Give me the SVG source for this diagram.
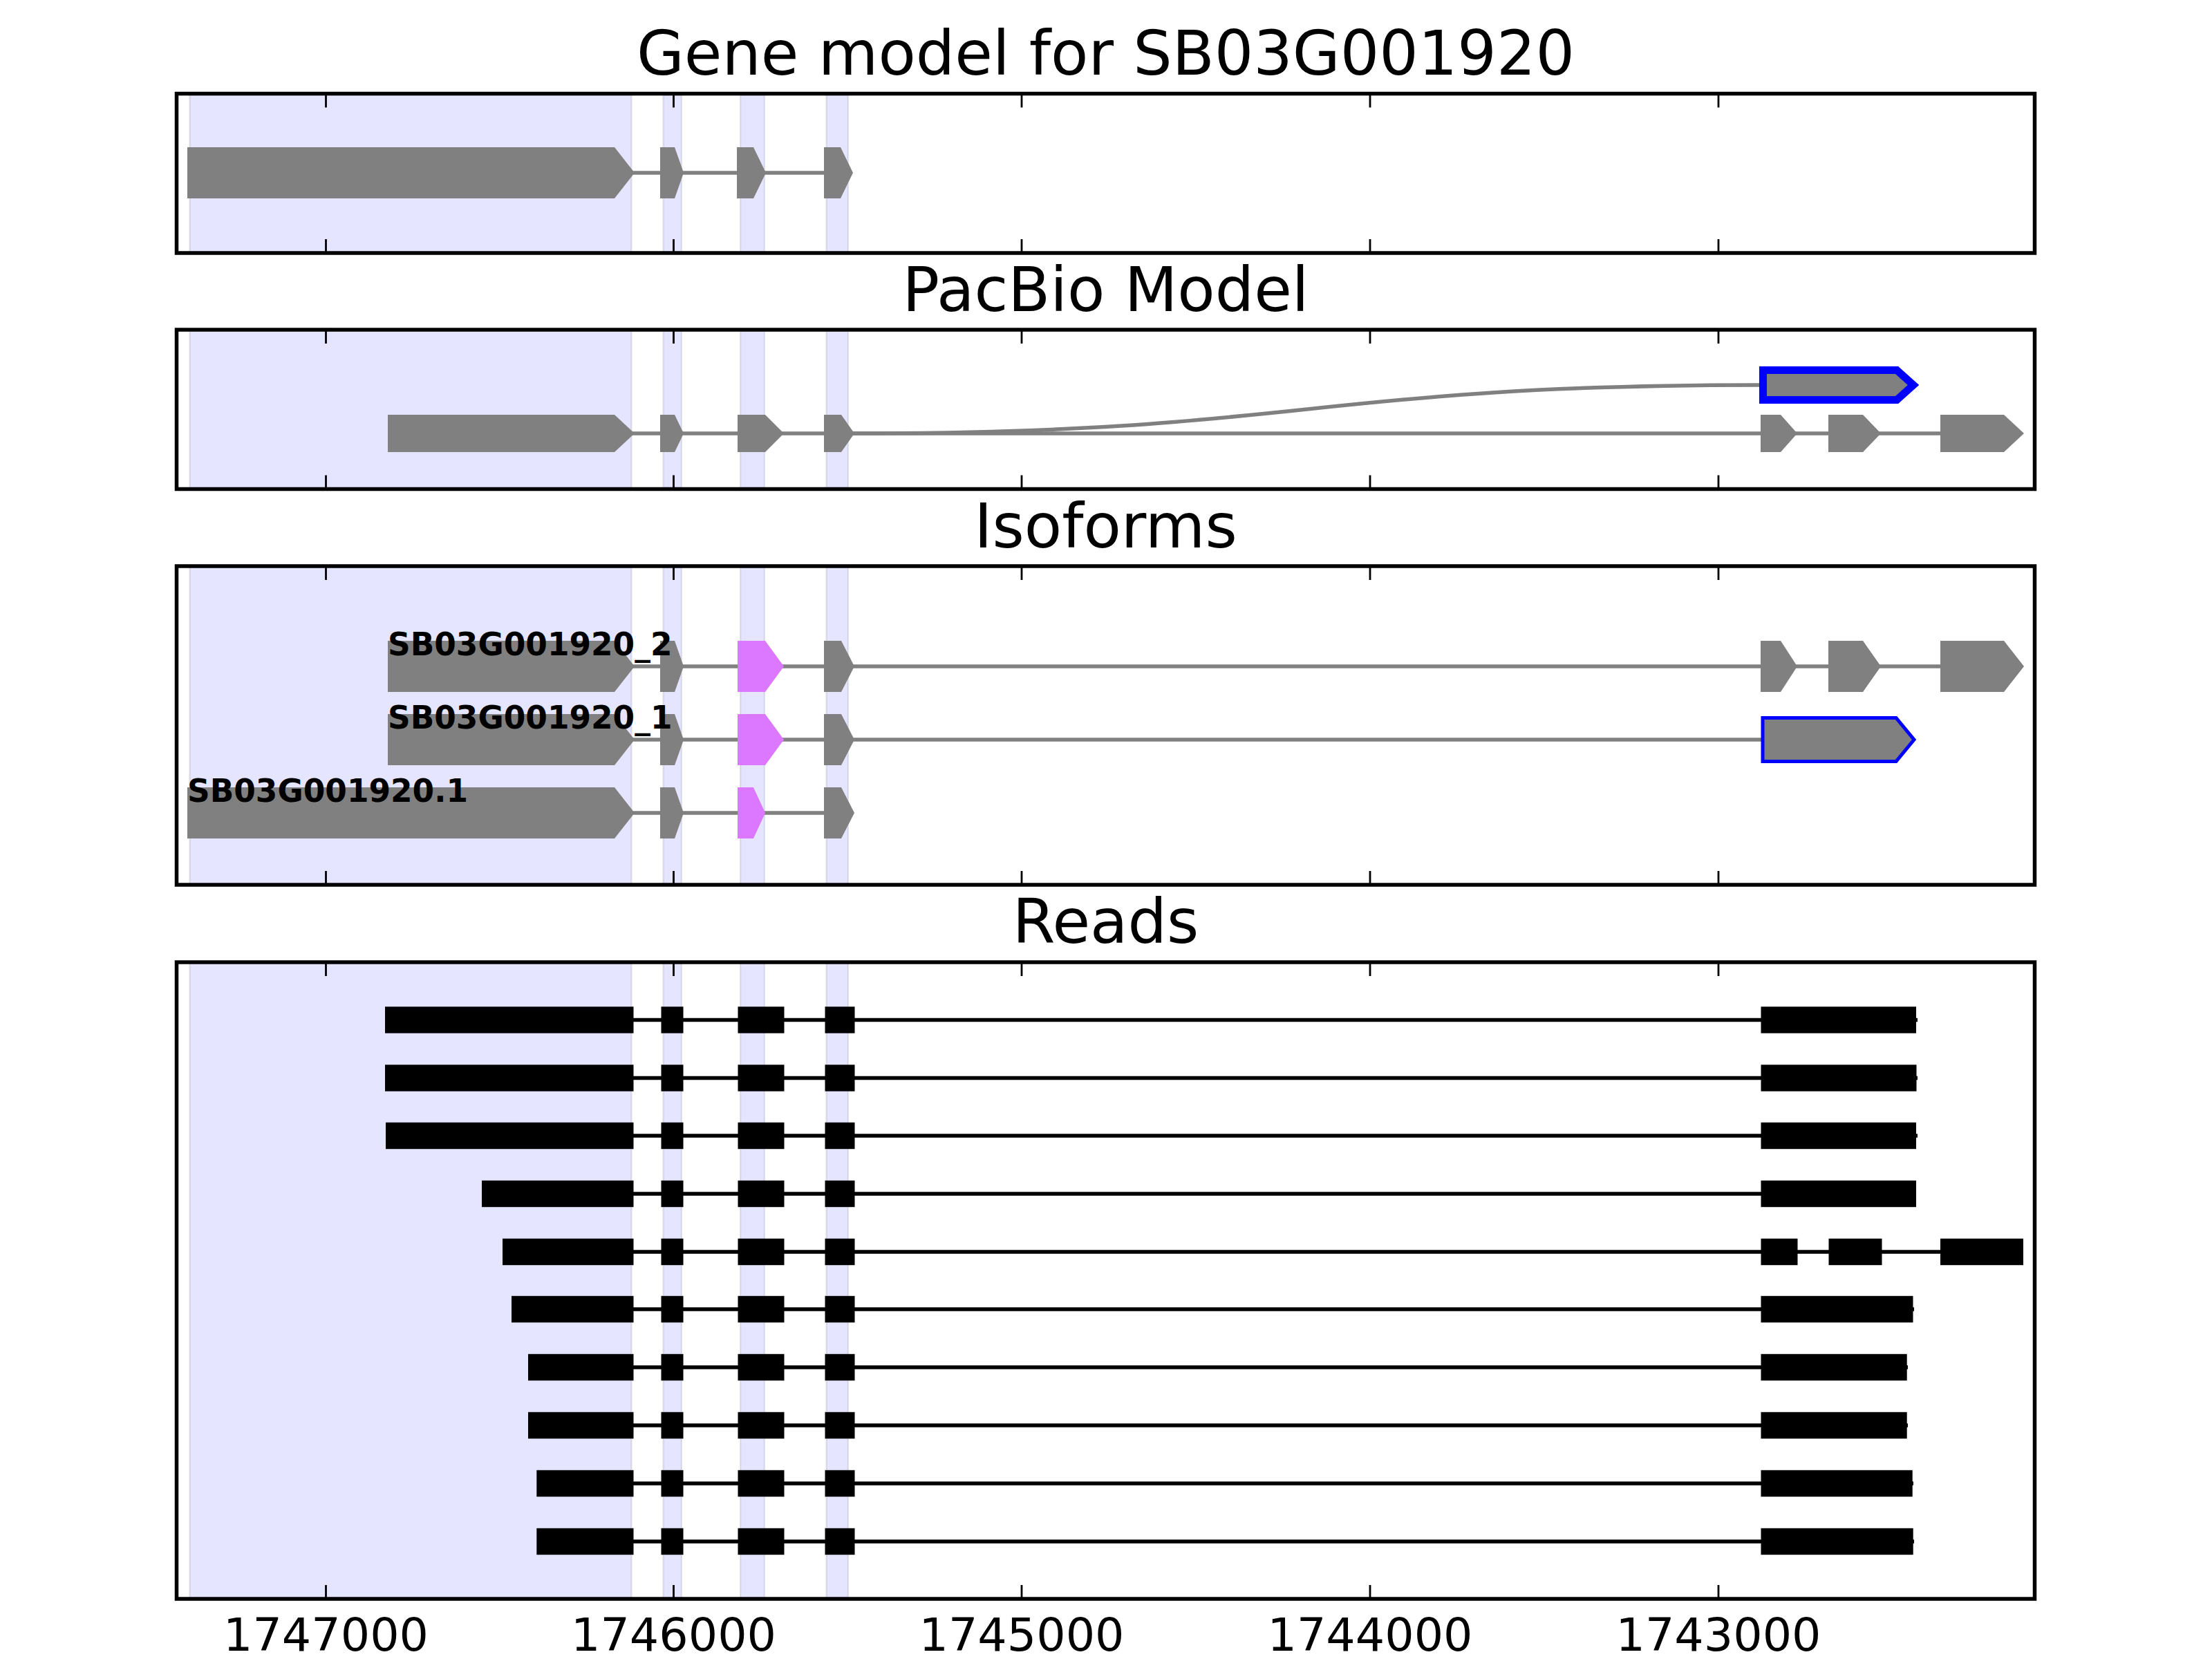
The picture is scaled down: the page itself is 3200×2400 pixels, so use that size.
<svg xmlns="http://www.w3.org/2000/svg" width="3200" height="2400" viewBox="0 0 3200 2400">
<style>
.bg{fill:#fff}
.frame{fill:none;stroke:#000;stroke-width:5.5}
.shade{fill:#e5e5ff;stroke:#000;stroke-opacity:0.09;stroke-width:2.5}
.tick{stroke:#000;stroke-width:2.8}
.exon{fill:#808080}
.alt{fill:#dc78ff}
.sel{fill:#808080;stroke:#0000ff;stroke-linejoin:miter}
.intron{fill:none;stroke:#808080;stroke-width:5.5}
.read{fill:#000}
.rline{fill:none;stroke:#000;stroke-width:5.3}
.title{font-family:"DejaVu Sans","Liberation Sans",sans-serif;font-size:88.9px;text-anchor:middle;fill:#000}
.lbl{font-family:"DejaVu Sans","Liberation Sans",sans-serif;font-weight:bold;font-size:45.4px;fill:#000}
.tl{font-family:"DejaVu Sans","Liberation Sans",sans-serif;font-size:66.7px;text-anchor:middle;fill:#000}
</style>
<rect class="bg" x="0" y="0" width="3200" height="2400"/>

<g id="titles">
<text class="title" x="1599.5" y="108">Gene model for SB03G001920</text>
<text class="title" x="1599.5" y="450">PacBio Model</text>
<text class="title" x="1599.5" y="792">Isoforms</text>
<text class="title" x="1599.5" y="1364">Reads</text>
</g>

<g id="shading">
<rect class="shade" x="274.5" y="135.5" width="639" height="230.5"/>
<rect class="shade" x="959.5" y="135.5" width="26.5" height="230.5"/>
<rect class="shade" x="1071" y="135.5" width="35" height="230.5"/>
<rect class="shade" x="1195.5" y="135.5" width="31.5" height="230.5"/>
<rect class="shade" x="274.5" y="477" width="639" height="230.5"/>
<rect class="shade" x="959.5" y="477" width="26.5" height="230.5"/>
<rect class="shade" x="1071" y="477" width="35" height="230.5"/>
<rect class="shade" x="1195.5" y="477" width="31.5" height="230.5"/>
<rect class="shade" x="274.5" y="819" width="639" height="461"/>
<rect class="shade" x="959.5" y="819" width="26.5" height="461"/>
<rect class="shade" x="1071" y="819" width="35" height="461"/>
<rect class="shade" x="1195.5" y="819" width="31.5" height="461"/>
<rect class="shade" x="274.5" y="1392" width="639" height="921"/>
<rect class="shade" x="959.5" y="1392" width="26.5" height="921"/>
<rect class="shade" x="1071" y="1392" width="35" height="921"/>
<rect class="shade" x="1195.5" y="1392" width="31.5" height="921"/>
</g>

<g id="connectors">
<line class="intron" x1="910" y1="250" x2="1230" y2="250"/>
<line class="intron" x1="910" y1="627" x2="2920" y2="627"/>
<path class="intron" d="M1230,627 C1891,627 1891,557 2552,557"/>
<line class="intron" x1="910" y1="964" x2="2920" y2="964"/>
<line class="intron" x1="910" y1="1070" x2="2552" y2="1070"/>
<line class="intron" x1="910" y1="1176" x2="1230" y2="1176"/>
<line class="rline" x1="916" y1="1475.5" x2="2774" y2="1475.5"/>
<line class="rline" x1="916" y1="1559.5" x2="2774" y2="1559.5"/>
<line class="rline" x1="916" y1="1643" x2="2774" y2="1643"/>
<line class="rline" x1="916" y1="1727" x2="2772" y2="1727"/>
<line class="rline" x1="916" y1="1811" x2="2926" y2="1811"/>
<line class="rline" x1="916" y1="1894" x2="2769" y2="1894"/>
<line class="rline" x1="916" y1="1978" x2="2760" y2="1978"/>
<line class="rline" x1="916" y1="2062" x2="2760" y2="2062"/>
<line class="rline" x1="916" y1="2146" x2="2768" y2="2146"/>
<line class="rline" x1="916" y1="2230" x2="2769" y2="2230"/>
</g>

<g id="gene-model">
<polygon class="exon" points="271,213 889,213 918,250 889,287 271,287"/>
<polygon class="exon" points="955,213 976,213 989,250 976,287 955,287"/>
<polygon class="exon" points="1066,213 1090,213 1108,250 1090,287 1066,287"/>
<polygon class="exon" points="1192,213 1216,213 1234,250 1216,287 1192,287"/>
</g>

<g id="pacbio-model">
<polygon class="exon" points="561,600 889,600 918,627 889,654 561,654"/>
<polygon class="exon" points="955,600 976,600 989,627 976,654 955,654"/>
<polygon class="exon" points="1067,600 1107,600 1134,627 1107,654 1067,654"/>
<polygon class="exon" points="1192,600 1217,600 1236,627 1217,654 1192,654"/>
<polygon class="exon" points="2547,600 2576,600 2600,627 2576,654 2547,654"/>
<polygon class="exon" points="2645,600 2695,600 2721,627 2695,654 2645,654"/>
<polygon class="exon" points="2807,600 2899,600 2928,627 2899,654 2807,654"/>
<path class="sel" stroke-width="11" d="M2550.5,535.5 L2744,535.5 L2768,557 L2744,578.5 L2550.5,578.5 Z"/>
</g>

<g id="isoform-2">
<polygon class="exon" points="561,927 889,927 918,964 889,1001 561,1001"/>
<polygon class="exon" points="955,927 976,927 989,964 976,1001 955,1001"/>
<polygon class="alt" points="1067,927 1107,927 1134,964 1107,1001 1067,1001"/>
<polygon class="exon" points="1192,927 1217,927 1236,964 1217,1001 1192,1001"/>
<polygon class="exon" points="2547,927 2576,927 2600,964 2576,1001 2547,1001"/>
<polygon class="exon" points="2645,927 2695,927 2721,964 2695,1001 2645,1001"/>
<polygon class="exon" points="2807,927 2899,927 2928,964 2899,1001 2807,1001"/>
<text class="lbl" x="561" y="948">SB03G001920_2</text>
</g>

<g id="isoform-1">
<polygon class="exon" points="561,1033 889,1033 918,1070 889,1107 561,1107"/>
<polygon class="exon" points="955,1033 976,1033 989,1070 976,1107 955,1107"/>
<polygon class="alt" points="1067,1033 1107,1033 1134,1070 1107,1107 1067,1107"/>
<polygon class="exon" points="1192,1033 1217,1033 1236,1070 1217,1107 1192,1107"/>
<path class="sel" stroke-width="5" d="M2550,1038.5 L2743,1038.5 L2769,1070 L2743,1101.5 L2550,1101.5 Z"/>
<text class="lbl" x="561" y="1054">SB03G001920_1</text>
</g>

<g id="isoform-ref">
<polygon class="exon" points="271,1139 889,1139 918,1176 889,1213 271,1213"/>
<polygon class="exon" points="955,1139 976,1139 989,1176 976,1213 955,1213"/>
<polygon class="alt" points="1067,1139 1090,1139 1107,1176 1090,1213 1067,1213"/>
<polygon class="exon" points="1192,1139 1217,1139 1236,1176 1217,1213 1192,1213"/>
<text class="lbl" x="271" y="1160">SB03G001920.1</text>
</g>

<g id="reads">
<g id="read-1"><rect class="read" x="557" y="1456.3" width="359.5" height="38.4"/><rect class="read" x="956.5" y="1456.3" width="32" height="38.4"/><rect class="read" x="1067.5" y="1456.3" width="67" height="38.4"/><rect class="read" x="1193.5" y="1456.3" width="43" height="38.4"/><rect class="read" x="2547.5" y="1456.3" width="224.5" height="38.4"/></g>
<g id="read-2"><rect class="read" x="557" y="1540.3" width="359.5" height="38.4"/><rect class="read" x="956.5" y="1540.3" width="32" height="38.4"/><rect class="read" x="1067.5" y="1540.3" width="67" height="38.4"/><rect class="read" x="1193.5" y="1540.3" width="43" height="38.4"/><rect class="read" x="2547.5" y="1540.3" width="225" height="38.4"/></g>
<g id="read-3"><rect class="read" x="558" y="1623.8" width="358.5" height="38.4"/><rect class="read" x="956.5" y="1623.8" width="32" height="38.4"/><rect class="read" x="1067.5" y="1623.8" width="67" height="38.4"/><rect class="read" x="1193.5" y="1623.8" width="43" height="38.4"/><rect class="read" x="2547.5" y="1623.8" width="224.5" height="38.4"/></g>
<g id="read-4"><rect class="read" x="697" y="1707.8" width="219.5" height="38.4"/><rect class="read" x="956.5" y="1707.8" width="32" height="38.4"/><rect class="read" x="1067.5" y="1707.8" width="67" height="38.4"/><rect class="read" x="1193.5" y="1707.8" width="43" height="38.4"/><rect class="read" x="2547.5" y="1707.8" width="224.5" height="38.4"/></g>
<g id="read-5"><rect class="read" x="727" y="1791.8" width="189.5" height="38.4"/><rect class="read" x="956.5" y="1791.8" width="32" height="38.4"/><rect class="read" x="1067.5" y="1791.8" width="67" height="38.4"/><rect class="read" x="1193.5" y="1791.8" width="43" height="38.4"/><rect class="read" x="2547.5" y="1791.8" width="53" height="38.4"/><rect class="read" x="2645.5" y="1791.8" width="77" height="38.4"/><rect class="read" x="2807" y="1791.8" width="120" height="38.4"/></g>
<g id="read-6"><rect class="read" x="740" y="1874.8" width="176.5" height="38.4"/><rect class="read" x="956.5" y="1874.8" width="32" height="38.4"/><rect class="read" x="1067.5" y="1874.8" width="67" height="38.4"/><rect class="read" x="1193.5" y="1874.8" width="43" height="38.4"/><rect class="read" x="2547.5" y="1874.8" width="220" height="38.4"/></g>
<g id="read-7"><rect class="read" x="764" y="1958.8" width="152.5" height="38.4"/><rect class="read" x="956.5" y="1958.8" width="32" height="38.4"/><rect class="read" x="1067.5" y="1958.8" width="67" height="38.4"/><rect class="read" x="1193.5" y="1958.8" width="43" height="38.4"/><rect class="read" x="2547.5" y="1958.8" width="211.2" height="38.4"/></g>
<g id="read-8"><rect class="read" x="764" y="2042.8" width="152.5" height="38.4"/><rect class="read" x="956.5" y="2042.8" width="32" height="38.4"/><rect class="read" x="1067.5" y="2042.8" width="67" height="38.4"/><rect class="read" x="1193.5" y="2042.8" width="43" height="38.4"/><rect class="read" x="2547.5" y="2042.8" width="211.2" height="38.4"/></g>
<g id="read-9"><rect class="read" x="776.3" y="2126.8" width="140.2" height="38.4"/><rect class="read" x="956.5" y="2126.8" width="32" height="38.4"/><rect class="read" x="1067.5" y="2126.8" width="67" height="38.4"/><rect class="read" x="1193.5" y="2126.8" width="43" height="38.4"/><rect class="read" x="2547.5" y="2126.8" width="219.2" height="38.4"/></g>
<g id="read-10"><rect class="read" x="776.3" y="2210.8" width="140.2" height="38.4"/><rect class="read" x="956.5" y="2210.8" width="32" height="38.4"/><rect class="read" x="1067.5" y="2210.8" width="67" height="38.4"/><rect class="read" x="1193.5" y="2210.8" width="43" height="38.4"/><rect class="read" x="2547.5" y="2210.8" width="220.2" height="38.4"/></g>
</g>

<g id="axes">
<rect class="frame" x="255.5" y="135.5" width="2688" height="230.5"/>
<rect class="frame" x="255.5" y="477" width="2688" height="230.5"/>
<rect class="frame" x="255.5" y="819" width="2688" height="461"/>
<rect class="frame" x="255.5" y="1392" width="2688" height="921"/>
<path class="tick" d="M471.5,135.5v20M974.5,135.5v20M1478,135.5v20M1982,135.5v20M2486,135.5v20 M471.5,366v-20M974.5,366v-20M1478,366v-20M1982,366v-20M2486,366v-20"/>
<path class="tick" d="M471.5,477v20M974.5,477v20M1478,477v20M1982,477v20M2486,477v20 M471.5,707.5v-20M974.5,707.5v-20M1478,707.5v-20M1982,707.5v-20M2486,707.5v-20"/>
<path class="tick" d="M471.5,819v20M974.5,819v20M1478,819v20M1982,819v20M2486,819v20 M471.5,1280v-20M974.5,1280v-20M1478,1280v-20M1982,1280v-20M2486,1280v-20"/>
<path class="tick" d="M471.5,1392v20M974.5,1392v20M1478,1392v20M1982,1392v20M2486,1392v20 M471.5,2313v-20M974.5,2313v-20M1478,2313v-20M1982,2313v-20M2486,2313v-20"/>
<text class="tl" x="471.5" y="2388">1747000</text>
<text class="tl" x="974.5" y="2388">1746000</text>
<text class="tl" x="1478" y="2388">1745000</text>
<text class="tl" x="1982" y="2388">1744000</text>
<text class="tl" x="2486" y="2388">1743000</text>
</g>
</svg>
